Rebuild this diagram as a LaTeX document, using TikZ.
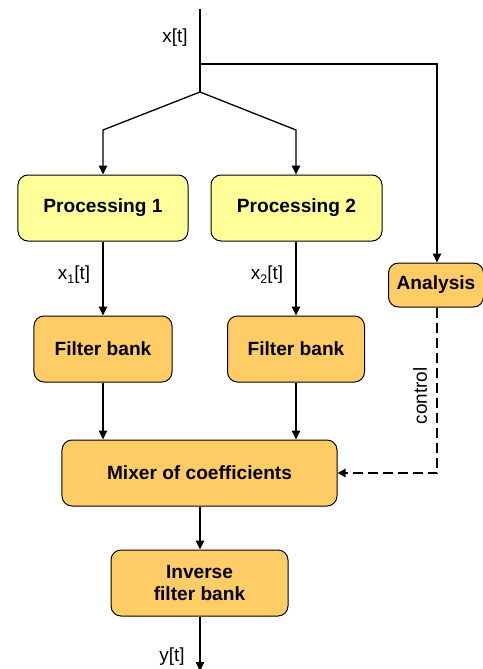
\documentclass[tikz,border=0pt]{standalone}
\usepackage{fontspec}
\setmainfont{Liberation Sans}
\usetikzlibrary{arrows.meta}
\definecolor{procfill}{RGB}{255,255,153}
\definecolor{boxfill}{RGB}{255,204,102}
\newcommand{\lowsub}[1]{\raisebox{-0.35ex}{\fontsize{12.5}{13}\selectfont #1}}
\tikzset{
  blk/.style={draw=black, line width=1bp, rounded corners=10bp, fill=boxfill,
    font=\fontsize{19.2}{23}\selectfont\bfseries, align=center, inner sep=0pt},
  procblk/.style={blk, fill=procfill},
  conn/.style={line width=1.3bp, -{Triangle[length=9bp,width=8.5bp]}},
  plain/.style={line width=1.3bp},
  ctrl/.style={line width=2.4bp, dash pattern=on 10bp off 5bp, -{Triangle[length=8bp,width=8bp]}},
  lbl/.style={font=\fontsize{19}{23}\selectfont, inner sep=0pt}
}
\begin{document}
\begin{tikzpicture}[x=1bp,y=-1bp]
\useasboundingbox (0,0) rectangle (483,669);
% nodes
\node[procblk, minimum width=170bp, minimum height=66bp] (p1) at (103,208) {Processing 1};
\node[procblk, minimum width=171bp, minimum height=66bp] (p2) at (296.5,208) {Processing 2};
\node[blk, minimum width=138bp, minimum height=66bp] (f1) at (103,349) {Filter bank};
\node[blk, minimum width=137bp, minimum height=66bp] (f2) at (296,349) {Filter bank};
\node[blk, minimum width=95bp, minimum height=44bp] (an) at (436,285) {Analysis};
\node[blk, minimum width=275bp, minimum height=66bp] (mx) at (199.5,473) {Mixer of coefficients};
\node[blk, minimum width=177bp, minimum height=66bp] (inv) at (199.5,583) {Inverse\\filter bank};
% coordinates
\coordinate (top) at (200,9);
\coordinate (br) at (200,64);
\coordinate (sp) at (200,92);
\coordinate (l1) at (103,130);
\coordinate (l2) at (296,130);
\coordinate (rc) at (437,64);
\coordinate (cc) at (437,473);
\coordinate (out) at (200,671);
% connectors
\draw[plain] (top) -- (sp);
\draw[conn] (sp) -- (l1) -- (p1.north);
\draw[conn] (sp) -- (l2) -- (p2.north -| l2);
\draw[conn] (br) -- (rc) -- (rc |- an.north);
\draw[conn] (p1) -- (f1);
\draw[conn] (p2.south -| l2) -- (f2.north -| l2);
\draw[conn] (f1.south) -- (f1.south |- mx.north);
\draw[conn] (f2.south -| l2) -- (l2 |- mx.north);
\draw[ctrl] (rc |- an.south) -- (cc) -- (mx.east);
\draw[conn] (mx.south -| top) -- (inv.north -| top);
\draw[conn] (inv.south -| top) -- (out);
% labels
\node[lbl] (lx) at (175,38) {x[t]};
\node[lbl] (lx1) at (74,275) {x\lowsub{1}[t]};
\node[lbl] (lx2) at (267,275) {x\lowsub{2}[t]};
\node[lbl] (ly) at (172,657) {y[t]};
\node[lbl, rotate=90] (lc) at (420,396) {control};
\end{tikzpicture}
\end{document}
